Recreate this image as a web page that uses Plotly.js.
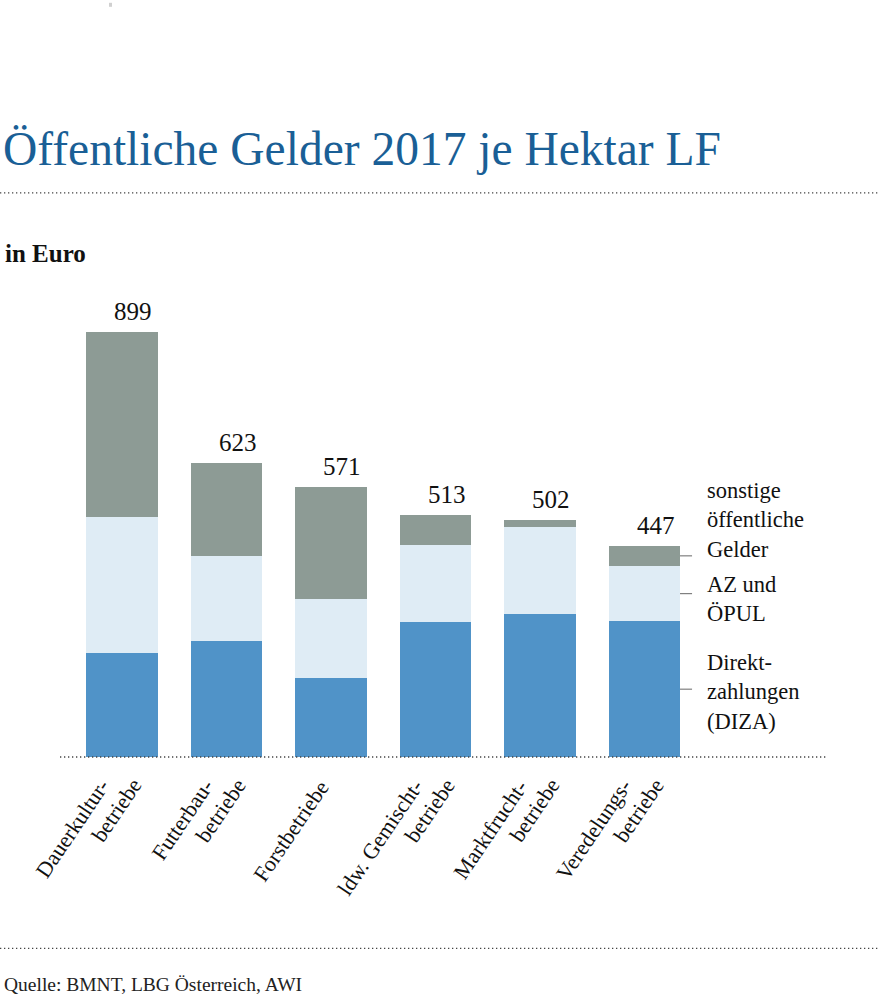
<!DOCTYPE html>
<html>
<head>
<meta charset="utf-8">
<script src="https://cdn.plot.ly/plotly-3.0.1.min.js"></script>
<style>html,body{margin:0;padding:0;background:#fff;}#chart{width:879px;height:1000px;}</style>
</head>
<body>
<div id="chart"></div>
<script>
// ---- data ----
const categories = ['Dauerkulturbetriebe', 'Futterbaubetriebe', 'Forstbetriebe', 'ldw. Gemischtbetriebe', 'Marktfruchtbetriebe', 'Veredelungsbetriebe'];
const tickLines = [['Dauerkultur-', 'betriebe'], ['Futterbau-', 'betriebe'], ['Forstbetriebe'], ['ldw. Gemischt-', 'betriebe'], ['Marktfrucht-', 'betriebe'], ['Veredelungs-', 'betriebe']];
const diza = [219, 245, 167, 285, 302, 287];
const azOepul = [289, 180, 167, 163, 185, 117];
const sonstige = [391, 198, 237, 65, 15, 43];
const totals = [899, 623, 571, 513, 502, 447];
const seriesNames = ['Direktzahlungen (DIZA)', 'AZ und ÖPUL', 'sonstige öffentliche Gelder'];
const legendLabels = ['Direkt-<br>zahlungen<br>(DIZA)', 'AZ und<br>ÖPUL', 'sonstige<br>öffentliche<br>Gelder'];

const FONT = 'Liberation Serif, Times New Roman, serif';
const colors = ['#5093c8', '#dfecf5', '#8d9b95'];

const xIdx = categories.map((c, i) => i);
const traces = [diza, azOepul, sonstige].map((vals, k) => ({
  type: 'bar', x: xIdx, y: vals, name: seriesNames[k],
  marker: {color: colors[k], line: {width: 0}},
  hoverinfo: 'skip'
}));

// plot area geometry
const L = 60, R = 830, T = 300, B = 756.7, W = 879, H = 1000;
const pw = R - L, ph = B - T;
const px = x => (x - L) / pw;
const py = y => (B - y) / ph;

const annotations = [];
// totals above bars
totals.forEach((t, i) => annotations.push({
  x: i, y: t, xref: 'x', yref: 'y', text: String(t), showarrow: false,
  xanchor: 'center', yanchor: 'bottom', xshift: 11, yshift: 5,
  font: {family: FONT, size: 25, color: '#111'}
}));

// category labels, rotated; each line placed separately (second line overhangs the first)
const lineShift = {single: [[6, -16]], double: [[-5, -15], [27, -14]]};
tickLines.forEach((lines, i) => {
  const sh = lines.length > 1 ? lineShift.double : lineShift.single;
  lines.forEach((ln, j) => annotations.push({
    x: i, y: 0, xref: 'x', yref: 'y', text: ln, showarrow: false,
    textangle: -56, xanchor: 'right', yanchor: 'top',
    xshift: sh[j][0], yshift: sh[j][1],
    font: {family: FONT, size: 22, color: '#111'}
  }));
});

// legend labels beside last bar, at segment midpoints
const last = categories.length - 1;
const segMid = [
  diza[last] / 2,
  diza[last] + azOepul[last] / 2,
  diza[last] + azOepul[last] + sonstige[last] / 2
];
const blockShift = [-3, -5, 36];
const shapes = [];
segMid.forEach((m, k) => {
  annotations.push({
    x: last + 0.58, y: m, xref: 'x', yref: 'y', text: legendLabels[k], showarrow: false,
    xanchor: 'left', yanchor: 'middle', align: 'left', yshift: blockShift[k],
    font: {family: FONT, size: 22.5, color: '#111'}
  });
  shapes.push({type: 'line', xref: 'x', yref: 'y', x0: last + 0.34, x1: last + 0.455, y0: m, y1: m,
    line: {color: '#666', width: 1}});
});

// text blocks
annotations.push({xref: 'paper', yref: 'paper', x: px(3), y: py(254), text: '<b>in Euro</b>', showarrow: false,
  xanchor: 'left', yanchor: 'middle', font: {family: FONT, size: 25, color: '#111'}});
annotations.push({xref: 'paper', yref: 'paper', x: px(2), y: py(984), text: 'Quelle: BMNT, LBG Österreich, AWI', showarrow: false,
  xanchor: 'left', yanchor: 'middle', font: {family: FONT, size: 19.5, color: '#222'}});

// dotted rules
const dot = {color: '#444', width: 1.3, dash: '1.3px,2.7px'};
shapes.push({type: 'line', xref: 'paper', yref: 'paper', x0: px(0), x1: px(879), y0: py(193), y1: py(193), line: dot});
shapes.push({type: 'line', xref: 'paper', yref: 'paper', x0: px(0), x1: px(879), y0: py(948), y1: py(948), line: dot});
shapes.push({type: 'line', xref: 'paper', yref: 'paper', x0: 0, x1: px(828), y0: 0, y1: 0, line: dot});
// small grey mark top-left
shapes.push({type: 'rect', xref: 'paper', yref: 'paper', x0: px(109), x1: px(112), y0: py(3), y1: py(7),
  fillcolor: '#d0d0d0', line: {width: 0}});

const unit = 104.5;
const layout = {
  width: W, height: H,
  margin: {l: L, r: W - R, t: T, b: H - B, pad: 0},
  paper_bgcolor: '#fff', plot_bgcolor: '#fff',
  barmode: 'stack', bargap: 0.32, showlegend: false,
  title: {text: 'Öffentliche Gelder 2017 je Hektar LF', xref: 'container', yref: 'container',
    x: 3 / W, xanchor: 'left', y: 1 - 148 / H, yanchor: 'middle',
    font: {family: FONT, size: 47.5, color: '#1a5f96'}},
  xaxis: {
    range: [(L - 122) / unit, (R - 122) / unit],
    showticklabels: false, showgrid: false, zeroline: false, showline: false, ticks: '',
    fixedrange: true
  },
  yaxis: {
    range: [0, ph / 0.4724], showgrid: false, zeroline: false, showline: false,
    showticklabels: false, ticks: '', fixedrange: true
  },
  annotations: annotations, shapes: shapes
};

Plotly.newPlot('chart', traces, layout, {displayModeBar: false, staticPlot: true});
</script>
</body>
</html>
